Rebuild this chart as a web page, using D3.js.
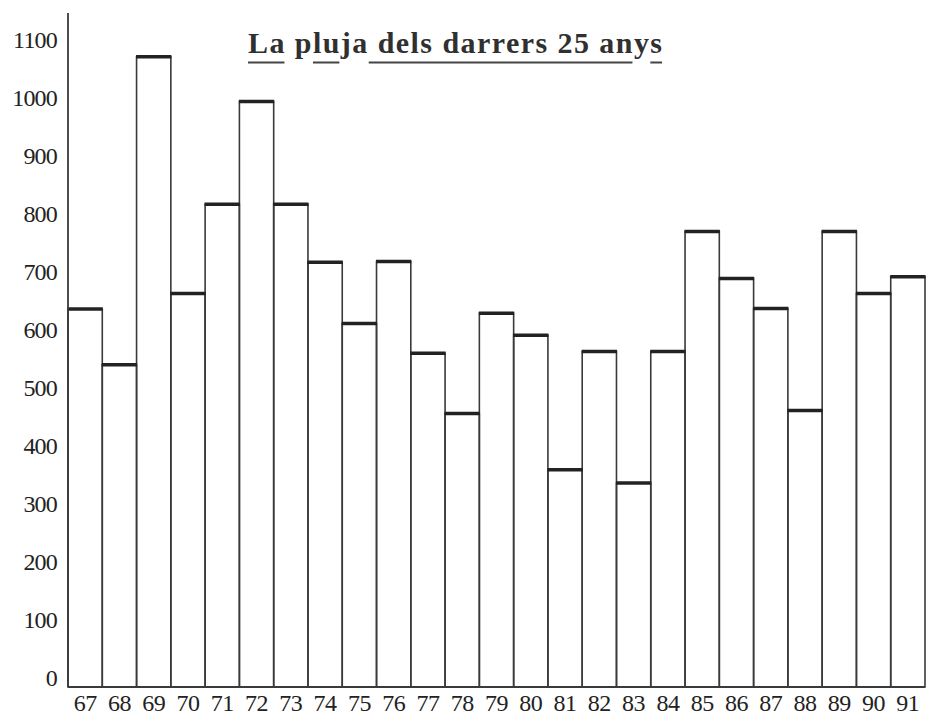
<!DOCTYPE html>
<html>
<head>
<meta charset="utf-8">
<script src="https://cdn.jsdelivr.net/npm/d3@7"></script>
<style>
  html, body { margin: 0; padding: 0; background: #fff; }
  svg { display: block; }
</style>
</head>
<body>
<svg id="chart" width="931" height="717"></svg>
<script>
const titleText = "La pluja dels darrers 25 anys";
const years = ["67","68","69","70","71","72","73","74","75","76","77","78","79","80","81","82","83","84","85","86","87","88","89","90","91"];
const rainfall = [636, 540, 1071, 663, 817, 994, 817, 717, 611, 718, 560, 456, 629, 591, 359, 563, 336, 563, 770, 689, 637, 461, 770, 663, 692];
const yTicks = [0, 100, 200, 300, 400, 500, 600, 700, 800, 900, 1000, 1100];
// character ranges of the title that carry the underline (broken at descenders)
const underlineRuns = [[0, 1], [4, 5], [8, 26], [28, 28]];

const svg = d3.select("#chart");
const ink = "#222";
const serif = "'Liberation Serif', 'Times New Roman', serif";

const x = d3.scaleBand().domain(years).range([68, 925]).padding(0);
const y = d3.scaleLinear().domain([0, 1100]).range([678, 40]);
const baseY = 687;
const axisTop = 13;

// bars
const bars = svg.append("g");
bars.selectAll("rect")
  .data(years)
  .join("rect")
  .attr("x", d => x(d))
  .attr("width", x.bandwidth())
  .attr("y", (d, i) => y(rainfall[i]))
  .attr("height", (d, i) => baseY - y(rainfall[i]))
  .attr("fill", "none")
  .attr("stroke", "#3a3a3a")
  .attr("stroke-width", 1.6);

bars.selectAll("line.cap")
  .data(years)
  .join("line")
  .attr("class", "cap")
  .attr("x1", d => x(d) - 0.5)
  .attr("x2", d => x(d) + x.bandwidth() + 0.5)
  .attr("y1", (d, i) => y(rainfall[i]))
  .attr("y2", (d, i) => y(rainfall[i]))
  .attr("stroke", ink)
  .attr("stroke-width", 3.5);

// axes lines
svg.append("line")
  .attr("x1", x.range()[0]).attr("x2", x.range()[0])
  .attr("y1", axisTop).attr("y2", baseY)
  .attr("stroke", "#3a3a3a").attr("stroke-width", 1.8);
svg.append("line")
  .attr("x1", x.range()[0]).attr("x2", x.range()[1])
  .attr("y1", baseY).attr("y2", baseY)
  .attr("stroke", "#3a3a3a").attr("stroke-width", 2.2);

// y axis labels
const yAxis = d3.axisLeft(y).tickValues(yTicks).tickSize(0).tickPadding(11).tickFormat(d3.format("d"));
const gy = svg.append("g").attr("transform", `translate(${x.range()[0]},0)`).call(yAxis);
gy.select(".domain").remove();
gy.selectAll("text")
  .attr("font-family", serif)
  .attr("font-size", 24)
  .attr("letter-spacing", "-0.8")
  .attr("fill", ink);

// x axis labels
const xAxis = d3.axisBottom(x).tickSize(0).tickPadding(0);
const gx = svg.append("g").attr("transform", `translate(0,${baseY})`).call(xAxis);
gx.select(".domain").remove();
gx.selectAll("text")
  .attr("font-family", serif)
  .attr("font-size", 24)
  .attr("letter-spacing", "-0.5")
  .attr("fill", ink)
  .attr("dy", null)
  .attr("y", 24);

// title
const title = svg.append("text")
  .attr("x", 248)
  .attr("y", 53)
  .attr("font-family", serif)
  .attr("font-weight", "bold")
  .attr("font-size", 30)
  .attr("fill", "#303030")
  .attr("textLength", 414)
  .attr("lengthAdjust", "spacing")
  .text(titleText);

const tnode = title.node();
underlineRuns.forEach(([a, b]) => {
  const x1 = tnode.getStartPositionOfChar(a).x;
  const x2 = tnode.getEndPositionOfChar(b).x;
  svg.append("line")
    .attr("x1", x1).attr("x2", x2)
    .attr("y1", 62.5).attr("y2", 62.5)
    .attr("stroke", "#444").attr("stroke-width", 2);
});
</script>
</body>
</html>
